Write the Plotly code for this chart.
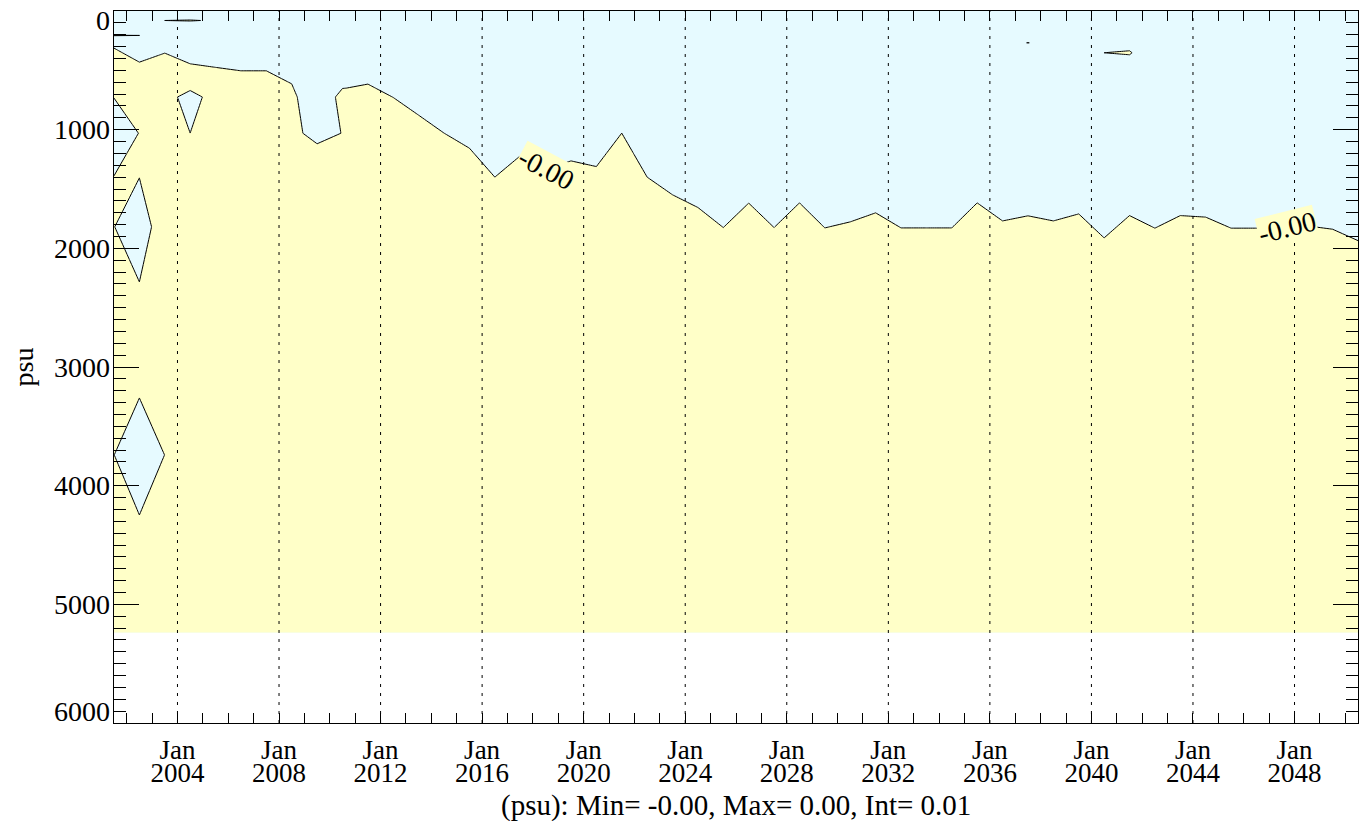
import numpy as np
import plotly.graph_objects as go

# ---------------- data ----------------
# annual-mean time axis (mid-year), one column per year
years = np.arange(2001.5, 2051.0, 1.0)

# depth of the zero line (negative above / positive below), per year
zero_line_depth = [313, 431, 355, 445, 475, 504, 504, 614, 1119, 656,
                   616, 729, 878, 1029, 1156, 1400, 1221, 1339, 1263, 1311,
                   1029, 1400, 1549, 1656, 1825, 1619, 1825, 1617, 1828, 1777,
                   1701, 1828, 1828, 1828, 1617, 1769, 1726, 1769, 1710, 1912,
                   1724, 1830, 1724, 1737, 1830, 1830, 1819, 1811, 1839, 1935]

# depth levels of the field
depth_levels = [0, 70, 80, 90, 150, 200, 206, 212, 268, 300, 330, 352, 374, 400,
                500, 600, 650, 725, 1030, 1200, 1398, 1819, 2300, 2800, 3741, 4800, 5240]

# isolated cells (column index, depth level, value)
cell_values = [
    # left-edge patches
    (0, 725, 9), (0, 1030, -300), (0, 1200, -150), (0, 1398, 7), (0, 1819, 9),
    (1, 1030, 12), (1, 1200, 147), (1, 1398, 6), (1, 1819, -300), (1, 2300, 11),
    (2, 1819, 325),
    (1, 2800, 480), (1, 3741, -500), (1, 4800, 546), (0, 3741, 5), (2, 3741, 5),
    # small triangle near 2005
    (3, 650, 73), (3, 725, -200), (3, 1030, 1), (2, 725, 200), (4, 725, 216),
    # 2010 pocket
    (7, 1030, 70), (9, 725, 153), (9, 1030, 6),
    # near-surface slivers
    (2, 80, 1), (3, 80, 275),
    (0, 206, 50), (1, 206, 1),
    (36, 268, 80),
    (39, 352, 1), (40, 330, -50), (40, 352, 167), (40, 374, -50),
]

tick_years = [2004, 2008, 2012, 2016, 2020, 2024, 2028, 2032, 2036, 2040, 2044, 2048]
depth_ticks = [0, 1000, 2000, 3000, 4000, 5000, 6000]
depth_tick_text = ["0", "1000", "2000", "3000", "4000", "5000", "6000"]
depth_label_pos = [74, 1000, 2000, 3000, 4000, 5000, 5900]   # end labels nudged inside the frame

# contour label positions (year, depth, angle)
label_pos = [(2018.5, 1330, 28), (2047.7, 1821, -14)]

caption = "(psu): Min= -0.00, Max= 0.00, Int= 0.01"

# ---------------- build field ----------------
scale = 1e-6
z = np.array([[(d - b) for b in zero_line_depth] for d in depth_levels], dtype=float)
lvl_index = {d: i for i, d in enumerate(depth_levels)}
for c, d, v in cell_values:
    z[lvl_index[d], c] = v
z = z * scale

BLUE = "#E6FAFF"
YELLOW = "#FFFFC8"
FONT = "Liberation Serif"
XR = [2001.5, 2050.5]
YR = [6000, 0]

fig = go.Figure()
fig.add_trace(go.Contour(
    x=years, y=depth_levels, z=z,
    contours=dict(start=0, end=0, size=0.01, coloring="fill", showlabels=False),
    colorscale=[[0, BLUE], [0.5, BLUE], [0.5, YELLOW], [1, YELLOW]],
    zmin=-0.01, zmax=0.01,
    line=dict(color="black", width=1, smoothing=0),
    showscale=False, hoverinfo="skip",
))
# helper axes carrying the label rows
fig.add_trace(go.Scatter(x=[], y=[], xaxis="x2", yaxis="y", showlegend=False))
fig.add_trace(go.Scatter(x=[], y=[], xaxis="x", yaxis="y2", showlegend=False))

fig.update_layout(
    width=1353, height=813,
    margin=dict(l=106, r=3, t=3, b=98),
    paper_bgcolor="white", plot_bgcolor="white",
    font=dict(family=FONT, size=28, color="black"),
    showlegend=False,
    xaxis=dict(
        range=XR, tickvals=tick_years, ticktext=["Jan"] * len(tick_years),
        showgrid=False, automargin=False,
        ticks="inside", ticklen=10, tickcolor="black",
        minor=dict(dtick=1, tick0=2002, ticks="inside", ticklen=10, tickcolor="black", showgrid=False),
        showline=True, linecolor="black", linewidth=1, mirror="ticks",
        zeroline=False, ticklabelstandoff=3, tickfont=dict(size=27),
        layer="above traces",
    ),
    xaxis2=dict(
        overlaying="x", side="bottom", range=XR, automargin=False,
        tickvals=tick_years, ticktext=[str(y) for y in tick_years],
        showgrid=False, ticks="", showline=False, zeroline=False,
        ticklabelstandoff=31, tickfont=dict(size=27),
    ),
    yaxis=dict(
        range=YR, tickvals=depth_ticks, showticklabels=False, automargin=False,
        ticks="inside", ticklen=25, tickcolor="black",
        minor=dict(dtick=100, tick0=0, ticks="inside", ticklen=12, tickcolor="black", showgrid=False),
        showgrid=False, showline=True, linecolor="black", linewidth=1, mirror="ticks",
        zeroline=False, layer="above traces",
    ),
    yaxis2=dict(
        overlaying="y", side="left", range=YR, automargin=False,
        tickvals=depth_label_pos, ticktext=depth_tick_text,
        showgrid=False, ticks="", showline=False, zeroline=False,
        ticklabelstandoff=3, ticklabeloverflow="allow", tickfont=dict(size=28),
        title=dict(text="psu", font=dict(size=28), standoff=34),
    ),
)

# dotted vertical guide lines at the labelled ticks, drawn over the fill
for yr in tick_years:
    fig.add_shape(type="line", xref="x", yref="paper", x0=yr, x1=yr, y0=0, y1=1,
                  line=dict(color="black", width=1, dash="3px,6px"), layer="above")

for x, y, ang in label_pos:
    fig.add_annotation(x=x, y=y, xref="x", yref="y", text="-0.00", showarrow=False,
                       textangle=ang, font=dict(size=28, family=FONT),
                       bgcolor=YELLOW, borderpad=0)

fig.add_annotation(x=0.5, y=-0.1152, xref="paper", yref="paper", text=caption,
                   showarrow=False, font=dict(size=29, family=FONT), yanchor="middle")

fig.write_html("out.html")
